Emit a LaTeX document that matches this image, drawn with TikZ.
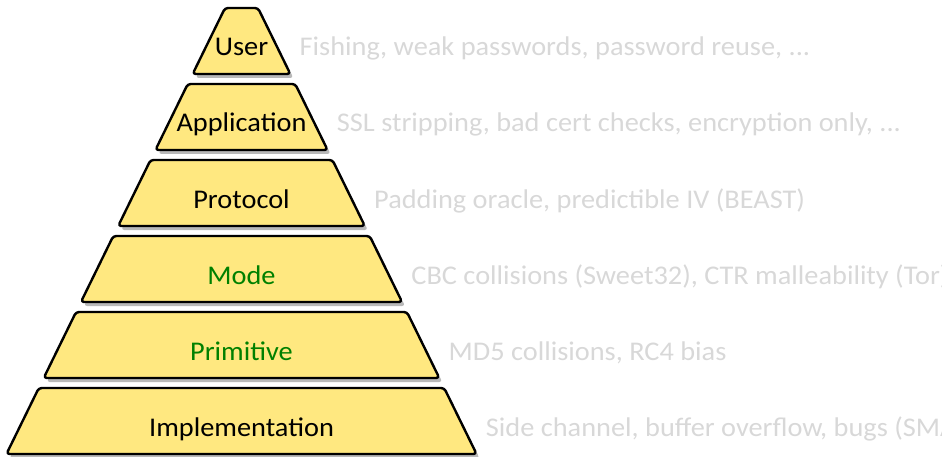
\documentclass[tikz,border=0pt]{standalone}
\usepackage{fontspec}
\setmainfont{Carlito}[FakeStretch=1.05]
\definecolor{pyr}{RGB}{255,232,128}
\definecolor{shad}{RGB}{185,185,185}
\definecolor{notec}{RGB}{216,216,216}
\definecolor{grn}{RGB}{0,128,0}
\begin{document}
\begin{tikzpicture}[x=1pt,y=-1pt,
  layerbox/.style={fill=pyr,draw=black,line width=2.4pt,rounded corners=3pt,line join=round},
  shadowbox/.style={fill=shad,rounded corners=3pt},
  lab/.style={anchor=base,font=\fontsize{27}{27}\selectfont,inner sep=0pt},
  notetext/.style={anchor=base west,font=\fontsize{27}{27}\selectfont,text=notec,inner sep=0pt}]
\useasboundingbox (0,0) rectangle (942,457);
\clip (0,0) rectangle (942,457);
\foreach \i/\lbl/\cl/\txt in {
  0/User/black/{Fishing, weak passwords, password reuse, ...},
  1/Application/black/{SSL stripping, bad cert checks, encryption only, ...},
  2/Protocol/black/{Padding oracle, predictible IV (BEAST)},
  3/Mode/grn/{CBC collisions (Sweet32), CTR malleability (Tor)},
  4/Primitive/grn/{MD5 collisions, RC4 bias},
  5/Implementation/black/{Side channel, buffer overflow, bugs (SMACK)}}
{
  \pgfmathsetmacro\yT{8+76*\i}
  \pgfmathsetmacro\yB{\yT+66}
  \pgfmathsetmacro\hT{16.5+0.49*(\yT-8)}
  \pgfmathsetmacro\hB{16.5+0.49*(\yB-8)}
  \pgfmathsetmacro\yBase{\yT+48}
  \pgfmathsetmacro\xN{241.5+16.5+0.49*(\yBase-8)+18}
  \fill[shadowbox,shift={(3,4)}] (241.5-\hT,\yT) -- (241.5+\hT,\yT) -- (241.5+\hB,\yB) -- (241.5-\hB,\yB) -- cycle;
  \draw[layerbox] (241.5-\hT,\yT) -- (241.5+\hT,\yT) -- (241.5+\hB,\yB) -- (241.5-\hB,\yB) -- cycle;
  \node[lab,text=\cl] (lab\i) at (241.5,\yBase) {\lbl};
  \node[notetext] (note\i) at (\xN,\yBase) {\txt};
}
\end{tikzpicture}
\end{document}
